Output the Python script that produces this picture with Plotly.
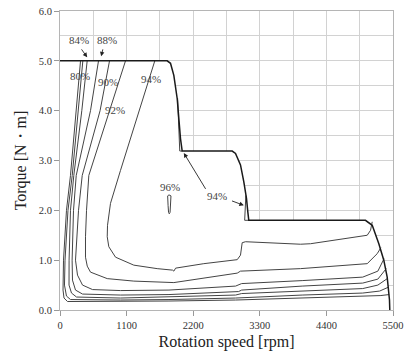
import plotly.graph_objects as go

# ---- data (rpm, N·m) ----
env_rpm = [0, 1770, 1825, 1880, 1936, 1962, 1990, 2018, 2844, 2899, 2981, 3036, 3080, 3102, 3118,
           5045, 5157, 5266, 5348, 5404, 5431, 5442, 5447]
env_torque = [5.0, 5.0, 4.95, 4.71, 4.24, 3.78, 3.44, 3.19, 3.19, 3.14, 2.91, 2.57, 2.24, 1.97, 1.80,
              1.80, 1.70, 1.33, 1.0, 0.66, 0.40, 0.2, 0.0]

eff_a_rpm = [339, 268, 173, 107, 58, 50, 66, 124, 600, 1800, 2900, 4000, 5000, 5300, 5436]
eff_a_torque = [5.0, 4.0, 2.7, 2.0, 1.0, 0.4, 0.24, 0.17, 0.17, 0.18, 0.2, 0.24, 0.27, 0.29, 0.31]

eff_b_rpm = [377, 301, 202, 132, 83, 74, 107, 173, 1000, 1800, 2900, 4000, 5000, 5280, 5428]
eff_b_torque = [5.0, 4.0, 2.7, 2.0, 1.0, 0.5, 0.28, 0.21, 0.2, 0.21, 0.24, 0.3, 0.34, 0.38, 0.46]

eff_c_rpm = [449, 360, 228, 173, 150, 149, 190, 273, 1000, 1800, 2900, 3000, 4000, 5000, 5250, 5405]
eff_c_torque = [5.0, 4.0, 2.7, 2.0, 1.0, 0.5, 0.34, 0.26, 0.24, 0.26, 0.3, 0.33, 0.38, 0.43, 0.5, 0.63]

eff_d_rpm = [636, 504, 268, 223, 200, 206, 256, 372, 1000, 1800, 2950, 3000, 4000, 5000, 5250, 5388]
eff_d_torque = [5.0, 4.0, 2.7, 2.0, 1.0, 0.6, 0.4, 0.32, 0.3, 0.31, 0.37, 0.40, 0.48, 0.54, 0.62, 0.83]

eff_e_rpm = [818, 662, 367, 306, 256, 289, 372, 537, 1000, 1800, 2900, 3000, 4000, 5000, 5250, 5352]
eff_e_torque = [5.0, 4.0, 2.7, 2.0, 1.0, 0.7, 0.5, 0.41, 0.39, 0.40, 0.48, 0.53, 0.59, 0.66, 0.78, 1.03]

eff_f_rpm = [1082, 821, 476, 438, 421, 421, 450, 504, 780, 1219, 1880, 2927, 2981, 3973, 5074, 5239, 5300]
eff_f_torque = [5.0, 4.0, 2.7, 2.0, 1.47, 1.06, 0.88, 0.76, 0.63, 0.58, 0.55, 0.74, 0.78, 0.83, 0.93, 1.13, 1.25]

eff94_rpm = [1566, 1305, 999, 834, 785, 780, 806, 917, 1219, 1605, 1860, 1880, 1910, 2375, 2927,
             2981, 3009, 3064, 3973, 4138, 5074, 5129, 5157]
eff94_torque = [5.0, 4.0, 2.8, 2.14, 1.7, 1.47, 1.27, 1.06, 0.9, 0.83, 0.80, 0.78, 0.84, 0.93, 1.01,
                1.10, 1.35, 1.37, 1.32, 1.33, 1.5, 1.6, 1.77]

sliver1_rpm = [1942, 1958, 1970, 1978, 2018]
sliver1_torque = [4.25, 3.8, 3.45, 3.19, 3.19]
sliver2_rpm = [3070, 3058, 3050, 3118]
sliver2_torque = [2.3, 2.0, 1.8, 1.8]

eff96_rpm = [1778, 1800, 1833, 1825, 1818, 1805, 1793, 1785, 1778]
eff96_torque = [2.29, 2.31, 2.29, 2.10, 1.96, 1.93, 1.96, 2.10, 2.29]

x_ticks = [0, 1100, 2200, 3300, 4400, 5500]
y_ticks = [0.0, 1.0, 2.0, 3.0, 4.0, 5.0, 6.0]

SERIF = "Liberation Serif"
LINE = "#444444"

fig = go.Figure()

# white fill of the operating region (hides the grid beneath)
fig.add_trace(go.Scatter(x=env_rpm + [0], y=env_torque + [0.0], mode="lines", fill="toself",
                         fillcolor="white", line=dict(width=0), hoverinfo="skip", showlegend=False))

for xs, ys in [(eff_a_rpm, eff_a_torque), (eff_b_rpm, eff_b_torque), (eff_c_rpm, eff_c_torque),
               (eff_d_rpm, eff_d_torque), (eff_e_rpm, eff_e_torque), (eff_f_rpm, eff_f_torque),
               (eff94_rpm, eff94_torque), (sliver1_rpm, sliver1_torque), (sliver2_rpm, sliver2_torque),
               (eff96_rpm, eff96_torque)]:
    fig.add_trace(go.Scatter(x=xs, y=ys, mode="lines", line=dict(color=LINE, width=1.0),
                             showlegend=False, hoverinfo="skip"))

fig.add_trace(go.Scatter(x=env_rpm, y=env_torque, mode="lines", line=dict(color="#1a1a1a", width=1.5),
                         showlegend=False, hoverinfo="skip"))

labels = [("84%", 310, 5.42), ("88%", 779, 5.42), ("80%", 330, 4.69), ("90%", 800, 4.57),
          ("92%", 905, 4.01), ("94%", 1495, 4.63), ("96%", 1814, 2.46), ("94%", 2596, 2.29)]
for t, x, y in labels:
    fig.add_annotation(x=x, y=y, text=t, showarrow=False,
                       font=dict(family=SERIF, size=11, color="#444"))

arrows = [(339, 5.26, 449, 5.07), (713, 5.26, 680, 5.09), (2420, 2.40, 2045, 3.15), (2816, 2.20, 3036, 2.10)]
for ax, ay, x, y in arrows:
    fig.add_annotation(x=x, y=y, ax=ax, ay=ay, axref="x", ayref="y", xref="x", yref="y", text="",
                       showarrow=True, arrowhead=2, arrowsize=1, arrowwidth=0.9, arrowcolor="#222",
                       standoff=0, startstandoff=0)

axis_common = dict(showline=True, linecolor="#b5b5b5", linewidth=1, mirror=True, automargin=False,
                   gridcolor="#d2d2d2", gridwidth=1, zeroline=False, ticks="outside",
                   ticklen=5, tickcolor="#999", tickfont=dict(family=SERIF, size=10.5, color="#333"))

fig.update_xaxes(range=[0, 5500], tickvals=x_ticks, ticktext=[str(v) for v in x_ticks],
                 minor=dict(dtick=550, tick0=0, showgrid=True, gridcolor="#d2d2d2", ticks=""),
                 title=dict(text="Rotation speed [rpm]", font=dict(family=SERIF, size=16, color="#222"),
                            standoff=6),
                 **axis_common)
fig.update_yaxes(range=[0, 6], tickvals=y_ticks, ticktext=[f"{v:.1f}" for v in y_ticks],
                 minor=dict(dtick=0.5, tick0=0, showgrid=True, gridcolor="#d2d2d2", ticks=""),
                 title=dict(text="Torque [N・m]", font=dict(family=SERIF, size=16, color="#222"),
                            standoff=8),
                 **axis_common)

fig.update_layout(width=404, height=358, margin=dict(l=60, r=11, t=11, b=48),
                  paper_bgcolor="white", plot_bgcolor="white", showlegend=False)

fig.write_html("out.html", config={"displayModeBar": False},
               post_script="document.body.style.margin='0';")
